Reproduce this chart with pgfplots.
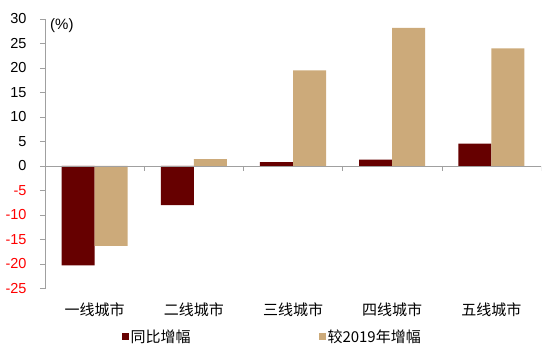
\documentclass[border=0pt]{standalone}
\usepackage{pgfplots}
\pgfplotsset{compat=1.18}
\usepackage{fontspec}
\setmainfont{Liberation Sans}
\newfontfamily\cjk{Noto Sans CJK SC}
\definecolor{dred}{RGB}{102,0,0}
\definecolor{btan}{RGB}{204,170,122}
\definecolor{axgray}{RGB}{160,160,160}
\begin{document}
\begin{tikzpicture}[x=1bp,y=1bp]
\begin{axis}[at={(0,0)}, anchor=south west, scale only axis,
  width=496bp, height=269.5bp,
  ymin=-25, ymax=30, xmin=-0.5, xmax=4.5,
  axis y line=left, axis x line=bottom,
  axis line style={-},
  x axis line style={draw=none},
  y axis line style={axgray},
  ybar=0pt, bar width=33bp,
  xtick={0,1,2,3,4},
  xticklabels={一线城市,二线城市,三线城市,四线城市,五线城市},
  xticklabel style={font=\cjk\fontsize{15bp}{18bp}\selectfont, yshift=-6bp},
  major x tick style={draw=none},
  ytick={-25,-20,...,30},
  yticklabels={{\color{red}-25},{\color{red}-20},{\color{red}-15},{\color{red}-10},{\color{red}-5},0,5,10,15,20,25,30},
  yticklabel style={font=\fontsize{14.5bp}{16bp}\selectfont, xshift=-10bp},
  tick align=outside, major tick length=5bp,
  major y tick style={axgray},
  legend style={at={(0.458,-0.178)}, anchor=center, draw=none, fill=none,
    font=\cjk\fontsize{15bp}{18bp}\selectfont},
  legend columns=2,
  legend cell align=left,
  /tikz/every even column/.append style={column sep=126bp},
  legend image code/.code={\fill[#1] (0bp,-3.5bp) rectangle (7bp,3.5bp);},
]
\addplot[fill=dred, draw=none] coordinates {(0,-20.3) (1,-8.0) (2,0.8) (3,1.3) (4,4.55)};
\addlegendentry{同比增幅}
\addplot[fill=btan, draw=none] coordinates {(0,-16.3) (1,1.4) (2,19.5) (3,28.2) (4,24.0)};
\addlegendentry{较2019年增幅}
\draw[axgray] (axis cs:-0.5,0) -- (axis cs:4.5,0);
\pgfplotsinvokeforeach{0.5,1.5,2.5,3.5,4.5}{\draw[axgray] (axis cs:#1,0) -- ([yshift=-5bp]axis cs:#1,0);}
\node[anchor=west, font=\fontsize{15bp}{17bp}\selectfont, inner sep=0pt] at ([xshift=5bp,yshift=-7bp]rel axis cs:0,1) {(\%)};
\end{axis}
\pgfresetboundingbox
\path (-45bp,-63.5bp) rectangle (505bp,288.5bp);
\end{tikzpicture}
\end{document}
